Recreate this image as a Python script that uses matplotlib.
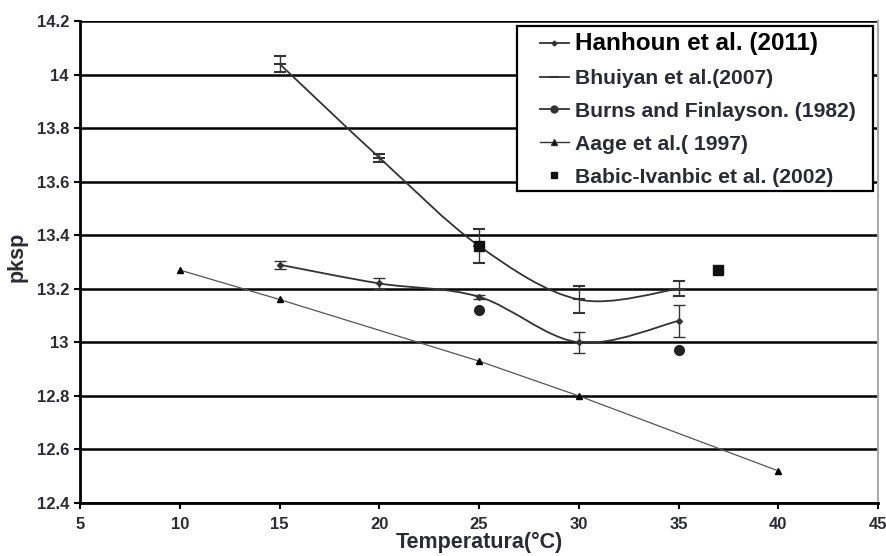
import matplotlib.pyplot as plt
import numpy as np
from matplotlib.path import Path
from matplotlib.patches import PathPatch, Rectangle
from matplotlib.lines import Line2D

# --- data ---
hanhoun_t = [15, 20, 25, 30, 35]
hanhoun_p = [13.29, 13.22, 13.17, 13.00, 13.08]
hanhoun_err = [0.015, 0.02, 0.008, 0.04, 0.06]

bhuiyan_t = [15, 20, 25, 30, 35]
bhuiyan_p = [14.04, 13.69, 13.36, 13.16, 13.20]
bhuiyan_err = [0.03, 0.015, 0.065, 0.05, 0.028]

burns_t = [25, 35]
burns_p = [13.12, 12.97]

aage_t = [10, 15, 25, 30, 40]
aage_p = [13.27, 13.16, 12.93, 12.80, 12.52]

babic_t = [25, 37]
babic_p = [13.36, 13.27]

x_ticks = [5, 10, 15, 20, 25, 30, 35, 40, 45]
y_ticks = [12.4, 12.6, 12.8, 13, 13.2, 13.4, 13.6, 13.8, 14, 14.2]
y_labels = ["12.4", "12.6", "12.8", "13", "13.2", "13.4", "13.6", "13.8", "14", "14.2"]

TXT = "#2b2b33"
LINE = "#333333"
W, H = 886, 556


def smooth_path(x, y):
    # Excel-like smoothed line: Catmull-Rom converted to cubic Bezier
    pts = np.column_stack([x, y]).astype(float)
    n = len(pts)
    verts = [pts[0]]
    codes = [Path.MOVETO]
    for i in range(n - 1):
        p0 = pts[max(i - 1, 0)]
        p1 = pts[i]
        p2 = pts[i + 1]
        p3 = pts[min(i + 2, n - 1)]
        verts += [p1 + (p2 - p0) / 6, p2 - (p3 - p1) / 6, p2]
        codes += [Path.CURVE4] * 3
    return Path(verts, codes)


plt.rcParams["font.family"] = ["Liberation Sans", "DejaVu Sans"]

fig = plt.figure(figsize=(8.86, 5.56), dpi=100)
ax = fig.add_axes([80 / W, 1 - 503 / H, 798 / W, 482 / H])

ax.set_xlim(5, 45)
ax.set_ylim(12.4, 14.2)

# horizontal grid
for yv in y_ticks:
    ax.axhline(yv, color="black", lw=1.8, zorder=1)

# smoothed curves
for t, p in [(hanhoun_t, hanhoun_p), (bhuiyan_t, bhuiyan_p)]:
    ax.add_patch(PathPatch(smooth_path(t, p), facecolor="none",
                           edgecolor=LINE, lw=1.3, zorder=3))

ax.errorbar(hanhoun_t, hanhoun_p, yerr=hanhoun_err, fmt="D", ms=3,
            color=LINE, ecolor=LINE, elinewidth=1.0, capsize=4, capthick=1.0, zorder=4)
ax.errorbar(bhuiyan_t, bhuiyan_p, yerr=bhuiyan_err, fmt="_", ms=8, mew=1.5,
            color=LINE, ecolor=LINE, elinewidth=1.0, capsize=4, capthick=1.0, zorder=4)

ax.plot(aage_t, aage_p, color="#555555", lw=0.9, marker="^", ms=5,
        mfc="black", mec="black", zorder=3)
ax.plot(burns_t, burns_p, ls="none", marker="o", ms=7, color="#222222", zorder=4)
ax.plot(babic_t, babic_p, ls="none", marker="s", ms=6.5, color="#111111", zorder=5)

# axes styling
ax.set_xticks(x_ticks)
ax.set_xticklabels([str(v) for v in x_ticks])
ax.set_yticks(y_ticks)
ax.set_yticklabels(y_labels)
ax.tick_params(axis="both", direction="out", length=4, width=1.5, color="black",
               labelsize=12, labelcolor=TXT)
ax.tick_params(axis="x", pad=6)
ax.tick_params(axis="y", pad=4)
for lab in ax.get_xticklabels() + ax.get_yticklabels():
    lab.set_fontweight("bold")

ax.spines["top"].set_visible(False)
ax.spines["right"].set_color("#aaaaaa")
ax.spines["right"].set_linewidth(1.5)
ax.spines["left"].set_linewidth(2)
ax.spines["bottom"].set_linewidth(2)

ax.set_xlabel("Temperatura(°C)", fontsize=15.5, fontweight="bold", color=TXT, labelpad=0)
ax.set_ylabel("pksp", fontsize=15.5, fontweight="bold", color=TXT)
ax.yaxis.set_label_coords(-0.066, 0.51)

# legend box drawn separately so its size can follow the reference
fig.patches.append(Rectangle((517 / W, 1 - 191 / H), 356 / W, 165 / H,
                             transform=fig.transFigure, facecolor="white",
                             edgecolor="black", lw=1.6, zorder=10))

handles = [
    Line2D([], [], color=LINE, lw=1.3, marker="D", ms=2.5),
    Line2D([], [], color=LINE, lw=1.3, marker="_", ms=7, mew=1.5),
    Line2D([], [], color=LINE, lw=1.3, marker="o", ms=5),
    Line2D([], [], color=LINE, lw=1.0, marker="^", ms=4, mfc="black"),
    Line2D([], [], color="#111111", ls="none", marker="s", ms=4),
]
labels = ["Hanhoun et al. (2011)", "Bhuiyan et al.(2007)",
          "Burns and Finlayson. (1982)", "Aage et al.( 1997)",
          "Babic-Ivanbic et al. (2002)"]
leg = fig.legend(handles, labels, loc="upper left",
                 bbox_to_anchor=(540 / W, 1 - 32 / H),
                 fontsize=15.2, frameon=False,
                 handlelength=1.35, handletextpad=0.3, labelspacing=0.66,
                 borderpad=0, borderaxespad=0)
leg.set_zorder(11)
for i, txt in enumerate(leg.get_texts()):
    txt.set_color("black" if i == 0 else TXT)
    txt.set_fontweight("bold")
    if i == 0:
        txt.set_fontsize(17.5)

fig.savefig("out.png", dpi=100)
